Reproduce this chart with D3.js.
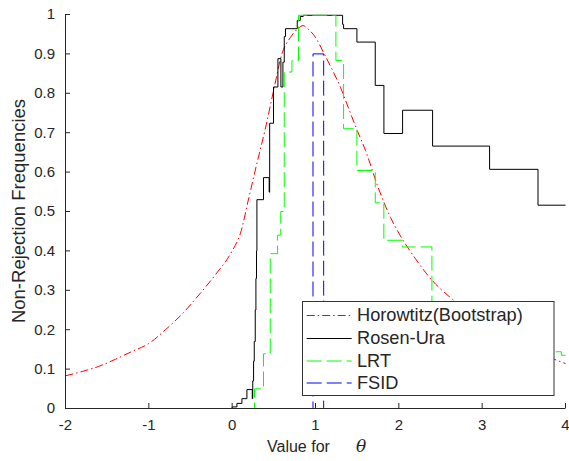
<!DOCTYPE html>
<html><head><meta charset="utf-8">
<script src="https://cdn.jsdelivr.net/npm/d3@7"></script>
<style>body{margin:0;background:#fff} svg{display:block}</style>
</head><body>
<script>
// ---------- data ----------
const xTicks = [-2, -1, 0, 1, 2, 3, 4];
const yTicks = [0, 0.1, 0.2, 0.3, 0.4, 0.5, 0.6, 0.7, 0.8, 0.9, 1];
const seriesNames = ["Horowtitz(Bootstrap)", "Rosen-Ura", "LRT", "FSID"];

const horowitzX = [-2, -1.8, -1.6, -1.4, -1.2, -1.0, -0.8, -0.6, -0.4, -0.2, 0, 0.1, 0.2, 0.3, 0.4, 0.5, 0.6, 0.7, 0.8, 0.85, 0.9, 1.0, 1.1, 1.2, 1.3, 1.4, 1.5, 1.6, 1.75, 1.9, 2.0, 2.2, 2.4, 2.6, 2.8, 3.0, 3.25, 3.5, 3.75, 4.0];
const horowitzY = [0.083, 0.094, 0.107, 0.125, 0.145, 0.165, 0.200, 0.240, 0.288, 0.340, 0.400, 0.445, 0.535, 0.625, 0.712, 0.810, 0.902, 0.942, 0.966, 0.972, 0.965, 0.942, 0.902, 0.860, 0.815, 0.760, 0.706, 0.655, 0.562, 0.485, 0.445, 0.380, 0.325, 0.285, 0.252, 0.222, 0.188, 0.160, 0.135, 0.114];

const rosenX = [-2, 0.0, 0.057, 0.117, 0.177, 0.241, 0.247, 0.257, 0.265, 0.277, 0.285, 0.292, 0.297, 0.376, 0.444, 0.450, 0.496, 0.549, 0.585, 0.609, 0.625, 0.640, 0.781, 0.817, 0.853, 1.325, 1.337, 1.497, 1.717, 1.821, 2.045, 2.405, 3.089, 3.670, 4.0];
const rosenY = [0, 0.004, 0.013, 0.025, 0.048, 0.025, 0.070, 0.120, 0.170, 0.250, 0.330, 0.400, 0.530, 0.586, 0.549, 0.724, 0.816, 0.888, 0.816, 0.879, 0.944, 0.964, 0.985, 0.995, 0.998, 0.975, 0.964, 0.930, 0.820, 0.698, 0.757, 0.666, 0.607, 0.516, 0.516];

const lrtX = [-2, 0.268, 0.376, 0.457, 0.545, 0.583, 0.625, 0.717, 0.796, 1.245, 1.337, 1.497, 1.717, 1.820, 2.040, 2.397, 3.0, 3.5, 3.95, 4.0];
const lrtY = [0, 0.050, 0.139, 0.393, 0.440, 0.500, 0.854, 0.883, 0.998, 0.883, 0.710, 0.604, 0.522, 0.427, 0.410, 0.220, 0.160, 0.144, 0.135, 0.135];

const fsidX = [-2, 0.976, 1.104, 4.0];
const fsidY = [0, 0.900, 0, 0];

// ---------- layout ----------
const W = 569, H = 461;
const font = "'Liberation Sans', Arial, Helvetica, sans-serif";
const ink = "#262626";

const svg = d3.select("body").append("svg")
  .attr("width", W).attr("height", H)
  .style("font-family", font);

const x = d3.scaleLinear().domain([-2, 4]).range([65, 565]);
const y = d3.scaleLinear().domain([0, 1]).range([408, 14]);

const zip = (xs, ys) => xs.map((v, i) => [v, ys[i]]);
const stepLine = d3.line().x(d => x(d[0])).y(d => y(d[1])).curve(d3.curveStepAfter);
const smoothLine = d3.line().x(d => x(d[0])).y(d => y(d[1])).curve(d3.curveMonotoneX);

const series = [
  {name: seriesNames[0], data: zip(horowitzX, horowitzY), gen: smoothLine, color: "#ff0000", dash: "8,3,1.5,3", w: 1, dx: 0.5, ly: 0.5},
  {name: seriesNames[1], data: zip(rosenX, rosenY), gen: stepLine, color: "#000000", dash: null, w: 1, dx: 0.5, ly: 0.5},
  {name: seriesNames[2], data: zip(lrtX, lrtY), gen: stepLine, color: "#00ff00", dash: "15,5", w: 1, dx: 0.5, ly: 0},
  {name: seriesNames[3], data: zip(fsidX, fsidY), gen: stepLine, color: "#0000ff", dash: "15,5", w: 1, dx: 0, ly: 0}
];

series.forEach(s => {
  svg.append("path")
    .attr("transform", `translate(${s.dx},0.5)`)
    .attr("d", s.gen(s.data))
    .attr("fill", "none")
    .attr("stroke", s.color)
    .attr("stroke-width", s.w)
    .attr("stroke-dasharray", s.dash);
});

// ---------- axes ----------
const xAxis = d3.axisBottom(x).tickValues(xTicks).tickFormat(d => String(d))
  .tickSizeInner(-5).tickSizeOuter(0).tickPadding(11);
const yAxis = d3.axisLeft(y).tickValues(yTicks).tickFormat(d => d === 0 ? "0" : d === 1 ? "1" : d3.format(".1f")(d))
  .tickSizeInner(-5).tickSizeOuter(0).tickPadding(10);

const gx = svg.append("g").attr("transform", `translate(0,${y(0)})`).call(xAxis);
const gy = svg.append("g").attr("transform", `translate(${x(-2)},0)`).call(yAxis);
[gx, gy].forEach(g => {
  g.selectAll("path,line").attr("stroke", ink);
  g.selectAll("text").attr("fill", ink).style("font-size", "15px").style("font-family", font);
});

// axis labels
svg.append("text")
  .attr("transform", `translate(25,${(y(0) + y(1)) / 2}) rotate(-90)`)
  .attr("text-anchor", "middle")
  .attr("fill", ink).style("font-size", "18.5px")
  .text("Non-Rejection Frequencies");

svg.append("text")
  .attr("x", 267).attr("y", 452)
  .attr("fill", ink).style("font-size", "16px")
  .text("Value for");
svg.append("text")
  .attr("x", 356).attr("y", 452)
  .attr("fill", ink).style("font-size", "17px")
  .style("font-family", "'DejaVu Serif', serif").style("font-style", "italic")
  .text("θ");

// ---------- legend ----------
const lg = svg.append("g");
lg.append("rect")
  .attr("x", 302.5).attr("y", 301.5).attr("width", 251.5).attr("height", 94)
  .attr("fill", "#fff").attr("stroke", "#333").attr("stroke-width", 1);
const rowY = [315, 338, 361, 383];
series.forEach((s, i) => {
  lg.append("line")
    .attr("x1", 306.7).attr("x2", 351.7)
    .attr("y1", rowY[i] + s.ly).attr("y2", rowY[i] + s.ly)
    .attr("stroke", s.color).attr("stroke-width", s.w)
    .attr("stroke-dasharray", s.dash);
  lg.append("text")
    .attr("x", 357).attr("y", rowY[i])
    .attr("dominant-baseline", "central")
    .attr("fill", ink).style("font-size", "18.2px")
    .text(s.name);
});
</script>
</body></html>
